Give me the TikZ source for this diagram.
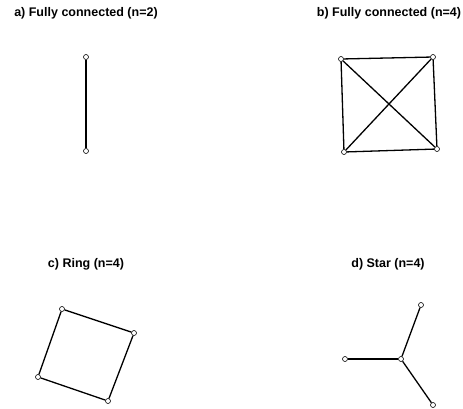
\documentclass[tikz,border=0pt]{standalone}
\usepackage{fontspec}
\setmainfont{Liberation Sans}
\usetikzlibrary{positioning}

\begin{document}
\begin{tikzpicture}[x=1pt, y=-1pt, line width=1.3pt,
		vertex/.style={circle, draw, fill=white, line width=0.6pt, inner sep=0pt, minimum size=5pt},
		title/.style={font=\bfseries\fontsize{12.5}{15}\selectfont, inner sep=0pt}]
		\useasboundingbox (0,0) rectangle (463,408);

		% a) Fully connected, twee knopen
		\node[title] (ta) at (86,13) {a) Fully connected (n=2)};
		\node[vertex] (a1) at (86,57) {};
		\node[vertex] (a2) at (86,151) {};
		\draw (a1) -- (a2);

		% b) Fully connected, vier knopen
		\node[title] (tb) at (389,13) {b) Fully connected (n=4)};
		\node[vertex] (b1) at (341,59) {};
		\node[vertex] (b2) at (433,57) {};
		\node[vertex] (b3) at (437,149) {};
		\node[vertex] (b4) at (344,152) {};
		\draw (b1) -- (b2);
		\draw (b2) -- (b3);
		\draw (b3) -- (b4);
		\draw (b4) -- (b1);
		\draw (b1) -- (b3);
		\draw (b2) -- (b4);

		% c) Ring
		\node[title] (tc) at (86,264) {c) Ring (n=4)};
		\node[vertex] (c1) at (62,309) {};
		\node[vertex] (c2) at (134,333) {};
		\node[vertex] (c3) at (108,401) {};
		\node[vertex] (c4) at (38,377) {};
		\draw (c1) -- (c2);
		\draw (c2) -- (c3);
		\draw (c3) -- (c4);
		\draw (c4) -- (c1);

		% d) Ster
		\node[title] (td) at (388,264) {d) Star (n=4)};
		\node[vertex] (d0) at (401,359) {};
		\node[vertex] (d1) at (345,359) {};
		\node[vertex] (d2) at (421,305) {};
		\node[vertex] (d3) at (433,405) {};
		\draw (d0) -- (d1);
		\draw (d0) -- (d2);
		\draw (d0) -- (d3);

	\end{tikzpicture}
\end{document}
